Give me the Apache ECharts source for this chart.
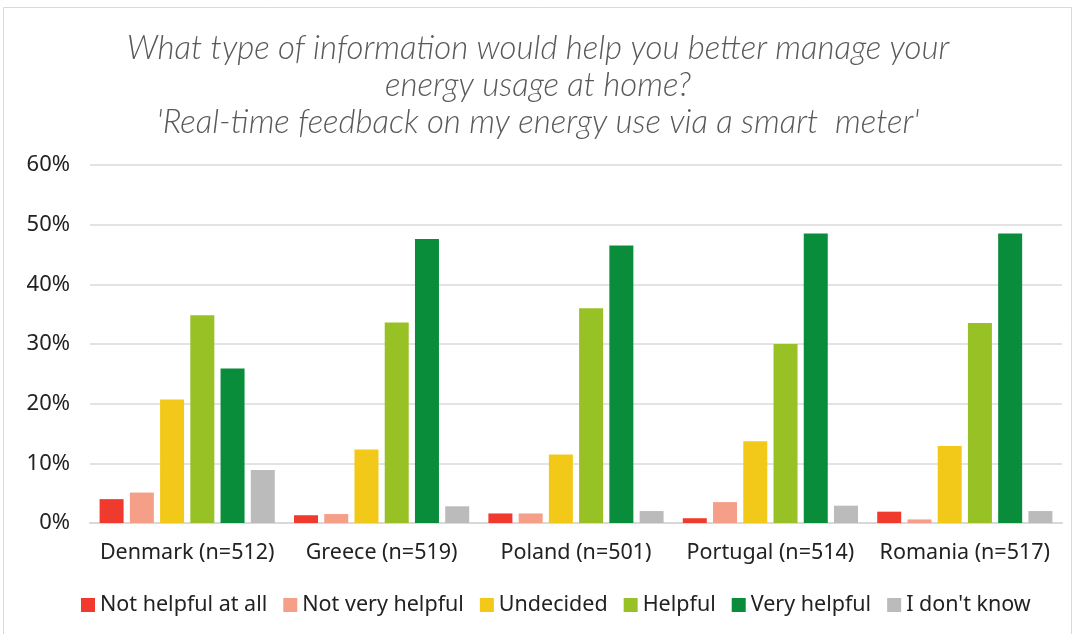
<!DOCTYPE html>
<html>
<head>
<meta charset="utf-8">
<script src="https://cdn.jsdelivr.net/npm/echarts@6/dist/echarts.min.js"></script>
<style>
  html, body { margin: 0; padding: 0; background: #fff; }
  #main { width: 1076px; height: 634px; }
</style>
</head>
<body>
<div id="main"></div>
<script>
// categories and answers
var countries = ['Denmark (n=512)', 'Greece (n=519)', 'Poland (n=501)', 'Portugal (n=514)', 'Romania (n=517)'];
var answers = ['Not helpful at all', 'Not very helpful', 'Undecided', 'Helpful', 'Very helpful', "I don't know"];
var colors = ['#F03A2E', '#F59E88', '#F2C919', '#97C124', '#0A8D3A', '#BBBBBB'];

// share of respondents (%), per answer, per country
var notHelpful = [4.0, 1.3, 1.6, 0.8, 1.9];
var notVery = [5.1, 1.5, 1.6, 3.5, 0.6];
var undecided = [20.7, 12.3, 11.5, 13.7, 12.9];
var helpful = [34.8, 33.6, 36.0, 30.0, 33.5];
var veryHelpful = [25.9, 47.6, 46.5, 48.5, 48.5];
var dontKnow = [8.9, 2.8, 2.0, 2.9, 2.0];

var values = [notHelpful, notVery, undecided, helpful, veryHelpful, dontKnow];

var chart = echarts.init(document.getElementById('main'));

var series = answers.map(function (name, i) {
  return {
    name: name,
    type: 'bar',
    data: values[i],
    barWidth: 24,
    barGap: '26%',
    itemStyle: { color: colors[i] }
  };
});

var option = {
  animation: false,
  color: colors,
  textStyle: { fontFamily: 'Noto Sans' },
  graphic: [{
    type: 'rect',
    shape: { x: 3.5, y: 7.5, width: 1068, height: 640 },
    style: { fill: 'none', stroke: '#d9d9d9', lineWidth: 1 }
  }],
  title: {
    text: "What type of information would help you better manage your\nenergy usage at home?\n'Real-time feedback on my energy use via a smart  meter'",
    left: 'center',
    top: 25,
    textStyle: {
      fontFamily: 'Lato',
      fontStyle: 'italic',
      fontWeight: 300,
      fontSize: 33,
      lineHeight: 37,
      color: '#595959'
    }
  },
  legend: {
    bottom: 13,
    left: 76,
    itemWidth: 14,
    itemHeight: 14,
    itemGap: 16,
    itemStyle: { borderWidth: 0 },
    icon: 'rect',
    textStyle: { fontSize: 21.5, color: '#222', fontFamily: 'Noto Sans' },
    data: answers
  },
  grid: { left: 90, right: 14, top: 165, bottom: 111 },
  xAxis: {
    type: 'category',
    data: countries,
    axisLine: { lineStyle: { color: '#d9d9d9', width: 2 } },
    axisTick: { show: false },
    axisLabel: { fontSize: 21.5, color: '#222', margin: 19, interval: 0 }
  },
  yAxis: {
    type: 'value',
    min: 0,
    max: 60,
    interval: 10,
    axisLabel: { formatter: '{value}%', fontSize: 22, color: '#222', margin: 20 },
    splitLine: { lineStyle: { color: '#e3e3e3', width: 2 } },
    axisLine: { show: false },
    axisTick: { show: false }
  },
  series: series
};

chart.setOption(option);
</script>
</body>
</html>
